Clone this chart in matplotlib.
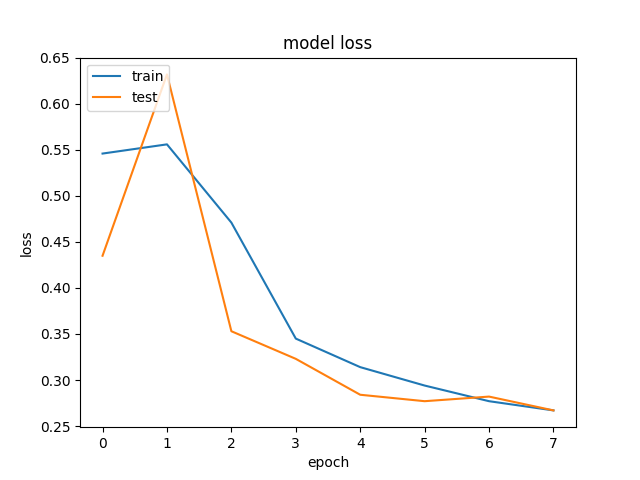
import matplotlib
matplotlib.use('Agg')
import matplotlib.pyplot as plt

# loss per epoch
epochs = [0, 1, 2, 3, 4, 5, 6, 7]
train_loss = [0.546, 0.556, 0.471, 0.345, 0.314, 0.294, 0.277, 0.267]
test_loss = [0.435, 0.632, 0.353, 0.323, 0.284, 0.277, 0.282, 0.267]

fig = plt.figure(figsize=(6.4, 4.8), dpi=100)
plt.plot(epochs, train_loss)
plt.plot(epochs, test_loss)
plt.title('model loss')
plt.ylabel('loss')
plt.xlabel('epoch')
plt.legend(['train', 'test'], loc='upper left')

plt.savefig('out.png', dpi=100)
